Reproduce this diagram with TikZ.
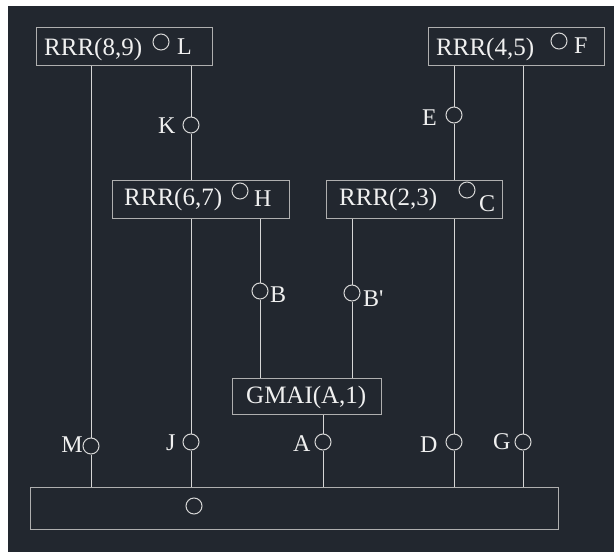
\documentclass[tikz,border=0pt]{standalone}
\usepackage{fontspec}
\setmainfont{Liberation Serif}
\definecolor{bg}{RGB}{34,39,47}
\definecolor{wire}{RGB}{214,214,214}
\definecolor{frame}{RGB}{175,175,175}
\definecolor{ink}{RGB}{240,240,240}
\begin{document}
\begin{tikzpicture}[x=1pt,y=-1pt,
  box/.style={draw=frame, line width=1pt, inner sep=0pt, anchor=north west},
  port/.style={circle, draw=wire, fill=bg, line width=1pt, minimum size=16pt, inner sep=0pt},
  wire/.style={draw=wire, line width=1pt},
  lbl/.style={text=ink, font=\fontsize{24}{24}\selectfont, inner sep=0pt, anchor=base west},
  blbl/.style={text=ink, font=\fontsize{25}{25}\selectfont, inner sep=0pt, anchor=base west}]
\useasboundingbox (0,0) rectangle (614,552);
\fill[white] (0,0) rectangle (614,552);
\fill[bg] (8,6) rectangle (614,552);

% blocks
\node[box, minimum width=176pt, minimum height=38pt] (bL) at (36,27) {};
\node[box, minimum width=176pt, minimum height=38pt] (bF) at (428,27) {};
\node[box, minimum width=177pt, minimum height=38pt] (bH) at (112,180) {};
\node[box, minimum width=176pt, minimum height=38pt] (bC) at (326,180) {};
\node[box, minimum width=149pt, minimum height=36pt] (bG) at (232,378) {};
\node[box, minimum width=528pt, minimum height=42pt] (bB) at (30,487) {};

% block texts
\node[blbl] (tL) at (44,55) {RRR(8,9)};
\node[blbl] (tF) at (436,55) {RRR(4,5)};
\node[blbl] (tH) at (124,205) {RRR(6,7)};
\node[blbl] (tC) at (339,205) {RRR(2,3)};
\node[blbl] (tG) at (246,403) {GMAI(A,1)};

% ports drawn inside blocks
\node[port] (cL) at (161,42) {};
\node[lbl] (nL) at (177,54) {L};
\node[port] (cF) at (559,41) {};
\node[lbl] (nF) at (574,53) {F};
\node[port] (cH) at (240,191) {};
\node[lbl] (nH) at (254,206) {H};
\node[port] (cC) at (467,190) {};
\node[lbl] (nC) at (479,211) {C};
\node[port] (cB) at (194,506) {};

% ports on the links
\node[port] (pK) at (191,125) {};
\node[lbl] (nK) at (158,133) {K};
\node[port] (pE) at (454,115) {};
\node[lbl] (nE) at (422,125) {E};
\node[port] (pB) at (260,291) {};
\node[lbl] (nB) at (270,302) {B};
\node[port] (pBp) at (352,293) {};
\node[lbl] (nBp) at (363,306) {B\textquotesingle};
\node[port] (pM) at (91,446) {};
\node[lbl, anchor=base east] (nM) at (83,452) {M};
\node[port] (pJ) at (191,442) {};
\node[lbl] (nJ) at (166,450) {J};
\node[port] (pA) at (323,442) {};
\node[lbl] (nA) at (293,451) {A};
\node[port] (pD) at (454,442) {};
\node[lbl] (nD) at (420,452) {D};
\node[port] (pG) at (523,442) {};
\node[lbl] (nG) at (493,449) {G};

% links
\draw[wire] (bL.south -| pM) -- (pM) -- (bB.north -| pM);
\draw[wire] (bL.south -| pK) -- (pK) -- (bH.north -| pK);
\draw[wire] (bH.south -| pJ) -- (pJ) -- (bB.north -| pJ);
\draw[wire] (bH.south -| pB) -- (pB) -- (bG.north -| pB);
\draw[wire] (bC.south -| pBp) -- (pBp) -- (bG.north -| pBp);
\draw[wire] (bG.south -| pA) -- (pA) -- (bB.north -| pA);
\draw[wire] (bF.south -| pE) -- (pE) -- (bC.north -| pE);
\draw[wire] (bC.south -| pD) -- (pD) -- (bB.north -| pD);
\draw[wire] (bF.south -| pG) -- (pG) -- (bB.north -| pG);
\end{tikzpicture}
\end{document}
